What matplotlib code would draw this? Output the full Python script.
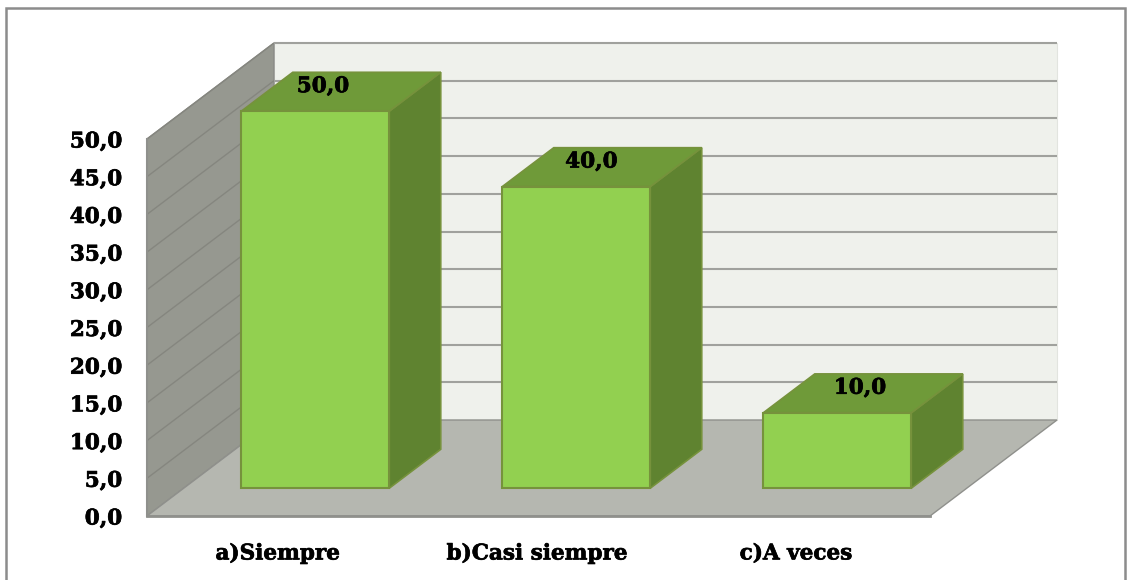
#!/usr/bin/env python3
"""3D-looking column chart drawn on plain 2D axes with an oblique projection."""

import matplotlib
matplotlib.use("Agg")
import matplotlib.patheffects as pe
import matplotlib.pyplot as plt
from matplotlib.patches import Polygon, Rectangle

categories = ["a)Siempre", "b)Casi siempre", "c)A veces"]
values = [50.0, 40.0, 10.0]
y_ticks = [0, 5, 10, 15, 20, 25, 30, 35, 40, 45, 50]
value_labels = ["50,0", "40,0", "10,0"]

W, H = 1131, 580
plt.rcParams["font.family"] = ["DejaVu Serif"]
plt.rcParams["font.weight"] = "bold"

fig = plt.figure(figsize=(W / 100, H / 100), dpi=100)
# plot box in pixels: x 147-930, y 139-516
ax = fig.add_axes([147 / W, 1 - 516 / H, (930 - 147) / W, (516 - 139) / H])
ax.set_xlim(-0.5, 2.5)
ax.set_ylim(0, 50)

# depth vector of the box, in data units
DX = 127 / 261
DY = 96 / 7.54
HEAVY = [pe.withStroke(linewidth=0.5, foreground="black")]


def proj(x, v, d):
    return (x + d * DX, v + d * DY)


def poly(pts, face, edge, lw=1.2, z=1):
    ax.add_patch(Polygon(pts, closed=True, facecolor=face, edgecolor=edge,
                         linewidth=lw, clip_on=False, zorder=z, joinstyle="miter"))


# outer chart frame
fig.add_artist(Rectangle((6 / W, -0.02), (1125 - 6) / W, 1.02 - 8 / H, transform=fig.transFigure,
                         facecolor="none", edgecolor="#8c8c8c", linewidth=1.8))

left, right = -0.5, 2.5
top = max(y_ticks)

# walls and floor
poly([proj(left, 0, 1), proj(right, 0, 1), proj(right, top, 1), proj(left, top, 1)], "#eff1ec", "#e2e4df", 0.8, 1)
poly([proj(left, 0, 0), proj(left, 0, 1), proj(left, top, 1), proj(left, top, 0)], "#969890", "#8a8a86", 1.0, 1)
poly([proj(left, 0, 0), proj(right, 0, 0), proj(right, 0, 1), proj(left, 0, 1)], "#b5b7b0", "#8f908c", 1.0, 2)

# gridlines run along the side wall then the back wall
for t in y_ticks[1:]:
    xs, ys = zip(proj(left, t, 0), proj(left, t, 1))
    ax.plot(xs, ys, color="#85867f", lw=1.0, clip_on=False, zorder=1.5, solid_capstyle="butt")
    xs, ys = zip(proj(left, t, 1), proj(right, t, 1))
    ax.plot(xs, ys, color="#a0a19d", lw=1.5, clip_on=False, zorder=1.5, solid_capstyle="butt")
xs, ys = zip(proj(left, 0, 0), proj(right, 0, 0))
ax.plot(xs, ys, color="#8f908c", lw=2, clip_on=False, zorder=3)
xs, ys = zip(proj(left, 0, 0), proj(left, top, 0))
ax.plot(xs, ys, color="#8f908c", lw=1.5, clip_on=False, zorder=3)

# columns
BAR_W = 148 / 261
D0, D1 = 0.29, 0.695
SHIFT = 1 / 261
EDGE = "#76923c"
for i, v in enumerate(values):
    x0 = i - BAR_W / 2 + SHIFT
    x1 = i + BAR_W / 2 + SHIFT
    poly([proj(x1, 0, D0), proj(x1, 0, D1), proj(x1, v, D1), proj(x1, v, D0)], "#5f8330", EDGE, 1.2, 4)
    poly([proj(x0, v, D0), proj(x1, v, D0), proj(x1, v, D1), proj(x0, v, D1)], "#6f9a39", EDGE, 1.2, 4)
    poly([proj(x0, 0, D0), proj(x1, 0, D0), proj(x1, v, D0), proj(x0, v, D0)], "#92d050", EDGE, 1.5, 5)
    # labels drift right of the column centre
    ax.annotate(value_labels[i], xy=proj(i, v, D0), xytext=(8.5 + 7.5 * i, 25),
                textcoords="offset pixels", ha="center", va="center",
                fontsize=15.5, fontweight="bold", color="black", zorder=6, annotation_clip=False,
                path_effects=HEAVY)

ax.set_yticks(y_ticks, [f"{t:.1f}".replace(".", ",") for t in y_ticks], fontsize=15.5, fontweight="bold")
# category labels sit slightly left of the even spacing
ax.set_xticks([i * 0.993 for i in range(len(categories))], categories, fontsize=15.5, fontweight="bold")
ax.tick_params(length=0)
ax.tick_params(axis="y", pad=18)
ax.tick_params(axis="x", pad=19)
for lab in ax.get_xticklabels() + ax.get_yticklabels():
    lab.set_path_effects(HEAVY)
for s in ax.spines.values():
    s.set_visible(False)
ax.patch.set_visible(False)

fig.savefig("out.png", dpi=100)
